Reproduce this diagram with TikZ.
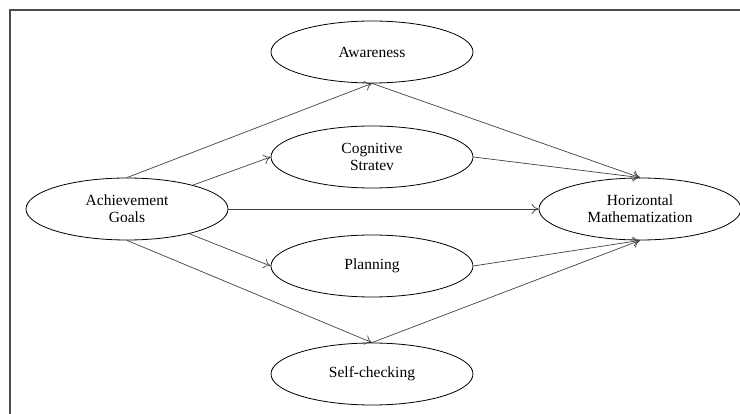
\documentclass[tikz,border=0pt]{standalone}
\usepackage{fontspec}
\setmainfont{Liberation Serif}
\usetikzlibrary{shapes.geometric}
\usetikzlibrary{arrows.meta}

\tikzset{
	factor/.style = {draw, thick, ellipse, minimum width=202pt, minimum height=62pt, inner sep=0pt, align=center, font=\fontsize{15.5}{17}\selectfont},
	path/.style = {draw=black!75, line width=0.7pt, -{To[length=7pt,width=10pt]}}
}

\begin{document}
\begin{tikzpicture}[x=1pt, y=-1pt]
	
	\useasboundingbox (0,0) rectangle (740,414);
	\draw[line width=2pt, black!70] (740,10) -- (10,10) -- (10,414);
	
	\node[factor] (ach) at (127,209) {Achievement\\Goals};
	\node[factor] (aw) at (372,52) {Awareness};
	\node[factor] (cog) at (372,157) {Cognitive\\Stratev};
	\node[factor] (plan) at (372,266) {Planning};
	\node[factor] (self) at (372,374) {Self-checking};
	\node[factor] (hm) at (640,209) {Horizontal\\Mathematization};
	
	\draw[path] (ach.north) -- (aw.south);
	\draw[path] (ach) -- (cog.west);
	\draw[path] (ach.east) -- (hm.west);
	\draw[path] (ach) -- (plan.west);
	\draw[path] (ach.south) -- (self.north);
	
	\draw[path] (aw.south) -- (hm.north);
	\draw[path] (cog.east) -- (hm.north);
	\draw[path] (plan.east) -- (hm.south);
	\draw[path] (self.north) -- (hm.south);
	
\end{tikzpicture}
\end{document}
